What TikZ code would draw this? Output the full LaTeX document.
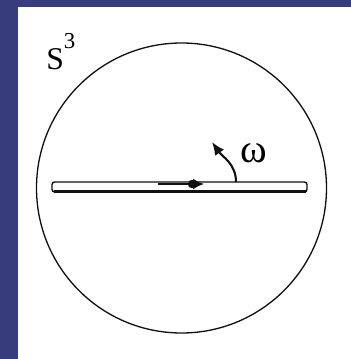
\documentclass[tikz,border=0pt]{standalone}
\usepackage{fontspec}
\setmainfont{Liberation Serif}
\usepackage{xcolor}
\usetikzlibrary{arrows.meta}
\definecolor{SlideBlue}{HTML}{363C7C}
\definecolor{InkDark}{HTML}{111111}
\tikzset{
  sphereline/.style={line width=0.75pt,draw=InkDark},
  stringtop/.style={line width=0.8pt,draw=InkDark,rounded corners=1.5pt},
  stringbot/.style={line width=1.6pt,draw=InkDark},
  spinarrow/.style={-{Latex[length=2.2mm,width=2.2mm]},line width=1.2pt,draw=InkDark},
  rotarrow/.style={-{Latex[length=2.6mm,width=2.2mm]},line width=1.2pt,draw=InkDark}
}

\begin{document}
\begin{tikzpicture}[x=0.02cm,y=0.02cm]
\useasboundingbox (0,0) rectangle (351,359);
\fill[SlideBlue] (0,0) rectangle (351,359);
\fill[white] (18,0) rectangle (351,352);
% sphere
\coordinate (o) at (181.5,171);
\draw[sphereline] (o) circle[radius=145];
\node[anchor=base west,inner sep=0pt,font=\fontsize{18}{18}\selectfont] (s3) at (46,289)
  {S\raisebox{12pt}{\fontsize{13}{13}\selectfont 3}};
% string
\draw[stringtop] (52,167) rectangle (307,177);
\draw[stringbot] (53.5,167.6) -- (305.5,167.6);
\coordinate (sa) at (158,175);
\coordinate (sb) at (204,175);
\draw[spinarrow] (sa) -- (sb);
\fill[InkDark] (192,175) circle[radius=4.2];
% rotation
\coordinate (ra) at (236,177);
\coordinate (rb) at (212,217);
\draw[rotarrow] (ra) to[out=90,in=-55] (rb);
\node[anchor=base west,inner sep=0pt,font=\fontsize{23}{23}\selectfont] (om) at (240,196) {ω};
\end{tikzpicture}
\end{document}
